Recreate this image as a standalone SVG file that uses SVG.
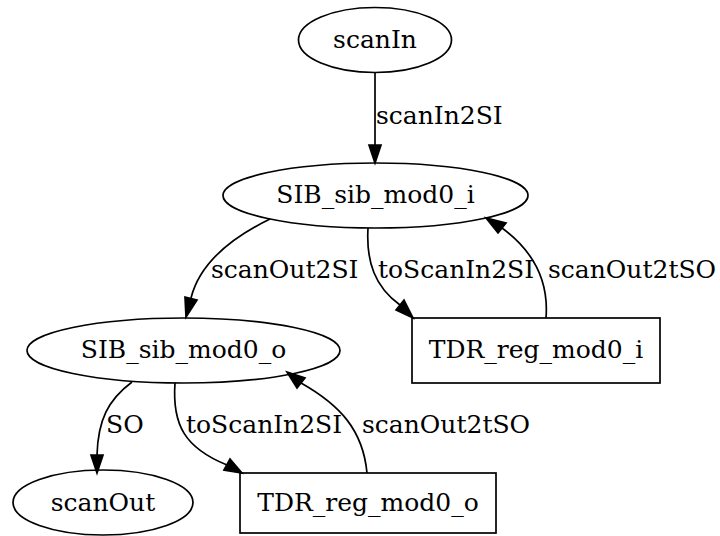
<svg xmlns="http://www.w3.org/2000/svg" width="720" height="536" viewBox="0 0 720 536">
<defs>
<style>
.n{fill:none;stroke:#000;stroke-width:1.7}
.e{fill:none;stroke:#000;stroke-width:1.7}
.a{fill:#000;stroke:#000;stroke-width:1.7}
text{font-family:"DejaVu Serif","Liberation Serif",serif;font-size:25px;fill:#000}
.c{text-anchor:middle}
</style>
</defs>
<rect width="720" height="536" fill="#fff"/>
<g id="edges">
<path class="e" d="M375,73 L375,145"/>
<polygon class="a" points="369,145 381,145 375,163"/>
<text x="376" y="124">scanIn2SI</text>
<path class="e" d="M270,219 C235,236 200,262 191,298"/>
<polygon class="a" points="185,297 197,300 186,317"/>
<text x="211" y="278">scanOut2SI</text>
<path class="e" d="M368,228 C366,262 375,287 400,305"/>
<polygon class="a" points="396,310 404,300 413,318"/>
<text x="378" y="278">toScanIn2SI</text>
<path class="e" d="M546,318 C549,280 532,250 502,228"/>
<polygon class="a" points="498,233 506,223 486,218"/>
<text x="548" y="278">scanOut2tSO</text>
<path class="e" d="M132,382 C108,400 98,420 97,455"/>
<polygon class="a" points="91,455 103,455 97,473"/>
<text x="106" y="433">SO</text>
<path class="e" d="M175,383 C172,425 185,448 227,465"/>
<polygon class="a" points="224,470 230,459 242,473"/>
<text x="186" y="433">toScanIn2SI</text>
<path class="e" d="M367,473 C363,430 340,405 301,383"/>
<polygon class="a" points="297,388 305,378 287,372"/>
<text x="362" y="433">scanOut2tSO</text>
</g>
<g id="scanIn">
<ellipse class="n" cx="375" cy="40" rx="76.5" ry="32.5"/>
<text class="c" x="375" y="48">scanIn</text>
</g>
<g id="SIB_sib_mod0_i">
<ellipse class="n" cx="375.5" cy="195.5" rx="152.5" ry="32.5"/>
<text class="c" x="375.5" y="203">SIB_sib_mod0_i</text>
</g>
<g id="TDR_reg_mod0_i">
<rect class="n" x="412" y="318" width="248" height="65"/>
<text class="c" x="536" y="358">TDR_reg_mod0_i</text>
</g>
<g id="SIB_sib_mod0_o">
<ellipse class="n" cx="183.5" cy="350.5" rx="156.5" ry="32.5"/>
<text class="c" x="183.5" y="358">SIB_sib_mod0_o</text>
</g>
<g id="scanOut">
<ellipse class="n" cx="103" cy="502.5" rx="90" ry="32.5"/>
<text class="c" x="103" y="511">scanOut</text>
</g>
<g id="TDR_reg_mod0_o">
<rect class="n" x="240" y="473" width="256" height="60"/>
<text class="c" x="368" y="511">TDR_reg_mod0_o</text>
</g>
</svg>
